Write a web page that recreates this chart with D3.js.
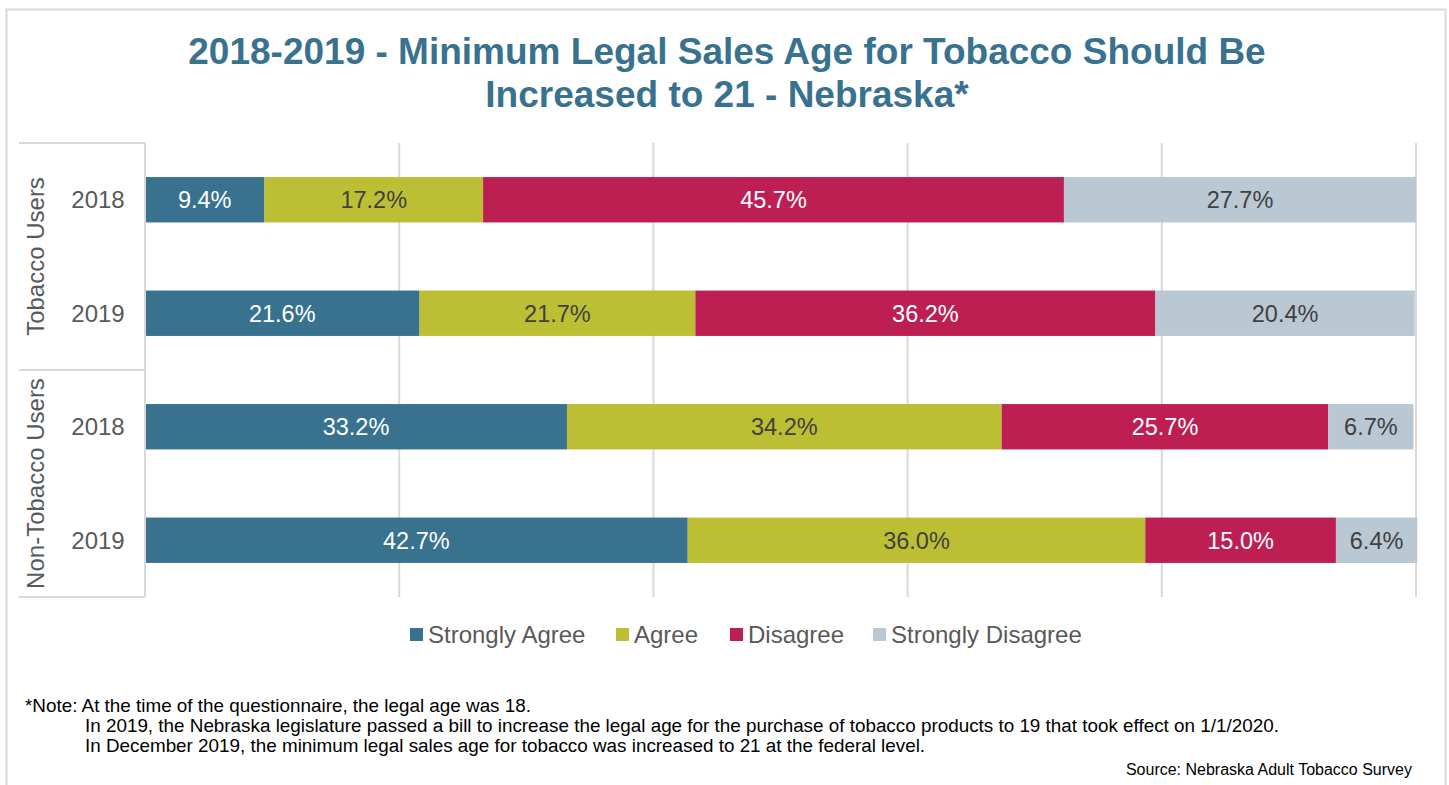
<!DOCTYPE html>
<html>
<head>
<meta charset="utf-8">
<script src="https://cdn.jsdelivr.net/npm/d3@7"></script>
<style>
  body { margin: 0; background: #fff; }
  svg { font-family: "Liberation Sans", Arial, sans-serif; }
</style>
</head>
<body>
<svg id="chart" width="1449" height="785"></svg>
<script>
// Data
const groups = ["Tobacco Users", "Non-Tobacco Users"];
const rows = [
  { group: "Tobacco Users", year: "2018" },
  { group: "Tobacco Users", year: "2019" },
  { group: "Non-Tobacco Users", year: "2018" },
  { group: "Non-Tobacco Users", year: "2019" }
];
const series = ["Strongly Agree", "Agree", "Disagree", "Strongly Disagree"];
const stronglyAgree = [9.4, 21.6, 33.2, 42.7];
const agree = [17.2, 21.7, 34.2, 36.0];
const disagree = [45.7, 36.2, 25.7, 15.0];
const stronglyDisagree = [27.7, 20.4, 6.7, 6.4];
const xTicks = [0, 20, 40, 60, 80, 100];

const colors = ["#39728f", "#bcbf33", "#bd1f53", "#b9c8d3"];
const labelColors = ["#ffffff", "#404040", "#ffffff", "#404040"];

const svg = d3.select("#chart");

// outer frame
svg.append("rect")
  .attr("x", 6.5).attr("y", 9.5)
  .attr("width", 1439).attr("height", 800)
  .attr("fill", "none").attr("stroke", "#d9d9d9").attr("stroke-width", 2);

// title
const title = svg.append("text")
  .attr("x", 727).attr("y", 64)
  .attr("text-anchor", "middle")
  .attr("fill", "#39728f")
  .attr("font-size", 37).attr("font-weight", "bold");
title.append("tspan").attr("x", 727).text("2018-2019 - Minimum Legal Sales Age for Tobacco Should Be");
title.append("tspan").attr("x", 727).attr("dy", 43).text("Increased to 21 - Nebraska*");

// scales
const plotLeft = 145, plotRight = 1416, plotTop = 143, plotBottom = 597;
const x = d3.scaleLinear().domain([0, 100]).range([plotLeft, plotRight]);
const y = d3.scaleBand()
  .domain(d3.range(rows.length))
  .range([plotTop, plotBottom])
  .paddingInner(0.6).paddingOuter(0.3);

// gridlines
svg.append("g").selectAll("line")
  .data(xTicks)
  .join("line")
  .attr("x1", d => x(d)).attr("x2", d => x(d))
  .attr("y1", plotTop).attr("y2", plotBottom)
  .attr("stroke", "#d9d9d9").attr("stroke-width", 2);

// stacked bars
const table = rows.map((r, i) => ({
  "Strongly Agree": stronglyAgree[i],
  "Agree": agree[i],
  "Disagree": disagree[i],
  "Strongly Disagree": stronglyDisagree[i],
  idx: i
}));
const stack = d3.stack().keys(series)(table);

const layers = svg.append("g").selectAll("g")
  .data(stack)
  .join("g")
  .attr("fill", (d, i) => colors[i]);

layers.selectAll("rect")
  .data(d => d)
  .join("rect")
  .attr("x", d => x(d[0]))
  .attr("y", d => y(d.data.idx))
  .attr("width", d => x(d[1]) - x(d[0]))
  .attr("height", y.bandwidth());

// value labels
stack.forEach((layer, si) => {
  svg.append("g").selectAll("text")
    .data(layer)
    .join("text")
    .attr("x", d => (x(d[0]) + x(d[1])) / 2)
    .attr("y", d => y(d.data.idx) + y.bandwidth() / 2)
    .attr("dy", "0.36em")
    .attr("text-anchor", "middle")
    .attr("font-size", 23.5)
    .attr("fill", labelColors[si])
    .text(d => (d[1] - d[0]).toFixed(1) + "%");
});

// category axis table
const axisG = svg.append("g");
const tableLeft = 19;
const sepYs = [plotTop, plotTop + (plotBottom - plotTop) / 2, plotBottom];
axisG.selectAll("line.sep")
  .data(sepYs)
  .join("line")
  .attr("x1", tableLeft).attr("x2", plotLeft)
  .attr("y1", d => d).attr("y2", d => d)
  .attr("stroke", "#d9d9d9").attr("stroke-width", 2);
axisG.append("line")
  .attr("x1", plotLeft).attr("x2", plotLeft)
  .attr("y1", plotTop).attr("y2", plotBottom)
  .attr("stroke", "#d9d9d9").attr("stroke-width", 2);

axisG.selectAll("text.year")
  .data(rows)
  .join("text")
  .attr("x", 98)
  .attr("y", (d, i) => y(i) + y.bandwidth() / 2)
  .attr("dy", "0.36em")
  .attr("text-anchor", "middle")
  .attr("font-size", 24)
  .attr("fill", "#595959")
  .text(d => d.year);

groups.forEach((g, k) => {
  const cy = (sepYs[k] + sepYs[k + 1]) / 2;
  axisG.append("text")
    .attr("transform", `translate(35,${cy}) rotate(-90)`)
    .attr("dy", "0.36em")
    .attr("text-anchor", "middle")
    .attr("font-size", 24)
    .attr("fill", "#595959")
    .text(g);
});

// legend
const legendX = [410, 616, 730, 873];
const legend = svg.append("g");
series.forEach((name, i) => {
  legend.append("rect")
    .attr("x", legendX[i]).attr("y", 628)
    .attr("width", 13).attr("height", 13)
    .attr("fill", colors[i]);
  legend.append("text")
    .attr("x", legendX[i] + 18).attr("y", 634)
    .attr("dy", "0.36em")
    .attr("font-size", 24)
    .attr("fill", "#595959")
    .text(name);
});

// notes
const notes = [
  { x: 25, y: 712, text: "*Note: At the time of the questionnaire, the legal age was 18." },
  { x: 85, y: 732, text: "In 2019, the Nebraska legislature passed a bill to increase the legal age for the purchase of tobacco products to 19 that took effect on 1/1/2020." },
  { x: 85, y: 752, text: "In December 2019, the minimum legal sales age for tobacco was increased to 21 at the federal level." }
];
svg.append("g").selectAll("text")
  .data(notes)
  .join("text")
  .attr("x", d => d.x).attr("y", d => d.y)
  .attr("font-size", 18.85)
  .attr("fill", "#000")
  .text(d => d.text);

svg.append("text")
  .attr("x", 1412).attr("y", 775)
  .attr("text-anchor", "end")
  .attr("font-size", 16)
  .attr("fill", "#000")
  .text("Source: Nebraska Adult Tobacco Survey");
</script>
</body>
</html>
